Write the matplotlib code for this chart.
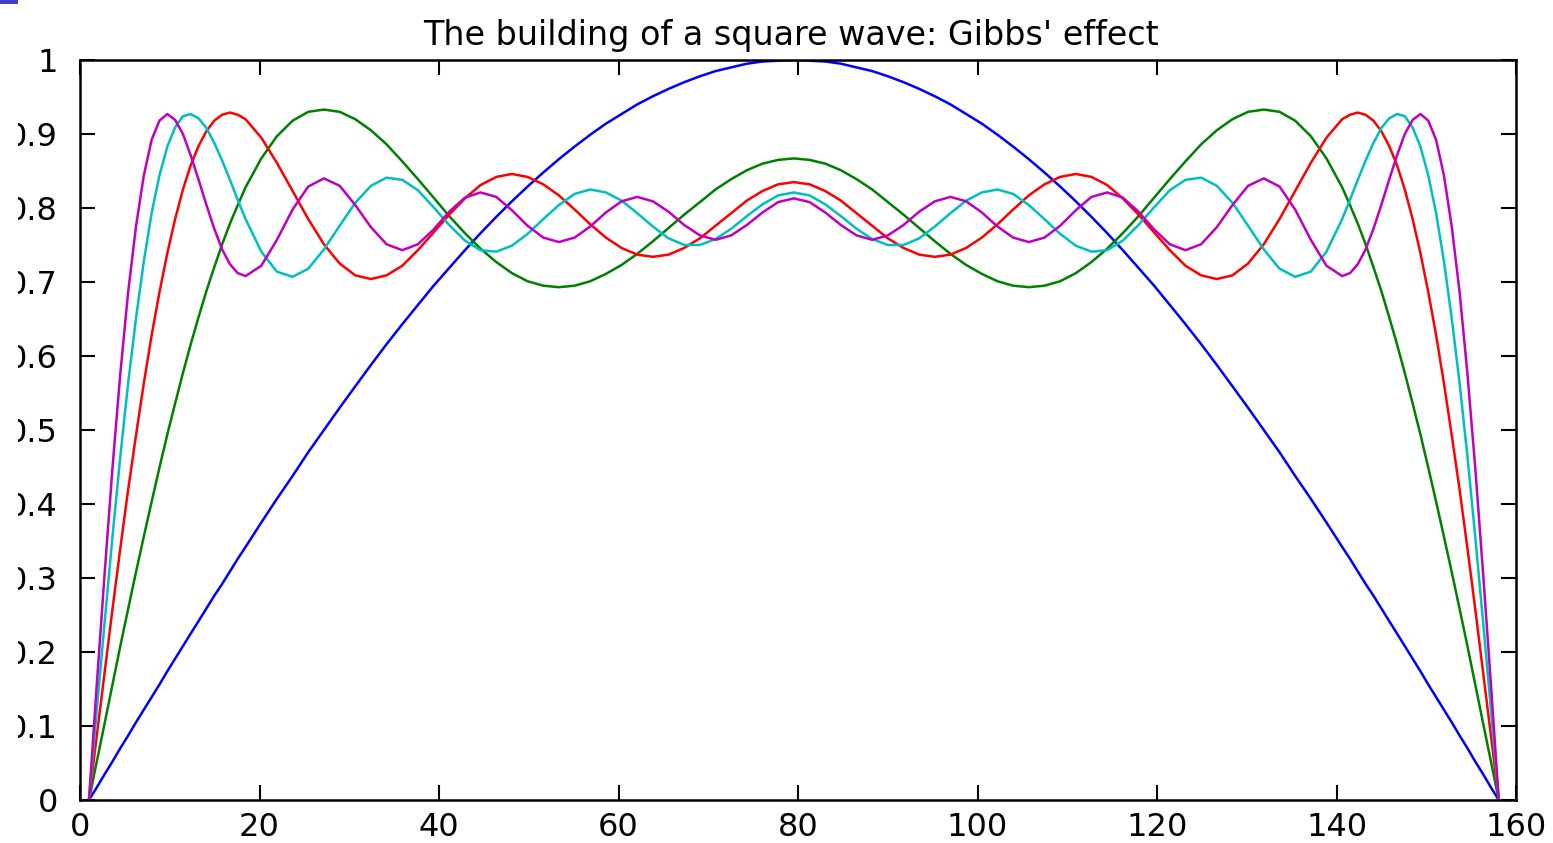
import matplotlib
matplotlib.use("Agg")
import matplotlib.pyplot as plt
from matplotlib.patches import Rectangle
from matplotlib.transforms import Bbox, TransformedBbox

# sample positions (index axis of the original plot)
x = [1.00, 1.87, 2.75, 3.62, 4.49, 5.36, 6.24, 7.11, 7.98, 8.85, 9.73, 10.60, 11.47,
     12.34, 13.22, 14.09, 14.96, 15.84, 16.71, 17.58, 18.45,
     20.20, 21.94, 23.69, 25.43, 27.18, 28.93, 30.67, 32.42, 34.16, 35.91, 37.65,
     39.40, 41.14, 42.89, 44.63, 46.38, 48.12, 49.87, 51.62, 53.36, 55.11, 56.85,
     58.60, 60.34, 62.09, 63.83, 65.58, 67.32, 69.07, 70.81, 72.56, 74.30, 76.05,
     77.79, 79.54, 81.29, 83.03, 84.78, 86.52, 88.27, 90.01, 91.76, 93.50, 95.25,
     96.99, 98.74, 100.48, 102.23, 103.97, 105.72, 107.46, 109.21, 110.96, 112.70,
     114.45, 116.19, 117.94, 119.68, 121.43, 123.17, 124.92, 126.66, 128.41, 130.15,
     131.90, 133.65, 135.39, 137.14, 138.88,
     140.63, 141.50, 142.37, 143.24, 144.12, 144.99, 145.86, 146.74, 147.61, 148.48,
     149.35, 150.23, 151.10, 151.97, 152.84, 153.72, 154.59, 155.46, 156.33, 157.21,
     158.08]

blue = [0, .017, .035, .052, .070, .087, .105, .122, .139, .156, .174, .191, .208,
        .225, .242, .259, .276, .292, .309, .326, .342,
        .375, .407, .438, .470, .500, .530, .559, .588, .616, .643, .669, .695, .719,
        .743, .766, .788, .809, .829, .848, .866, .883, .899, .914, .927, .940, .951,
        .961, .970, .978, .985, .990, .995, .998, .999, 1.000, .999, .998, .995, .990,
        .985, .978, .970, .961, .951, .940, .927, .914, .899, .883, .866, .848, .829,
        .809, .788, .766, .743, .719, .695, .669, .643, .616, .588, .559, .530, .500,
        .470, .438, .407, .375,
        .342, .326, .309, .292, .276, .259, .242, .225, .208, .191, .174, .156, .139,
        .122, .105, .087, .070, .052, .035, .017, 0]

green = [0, .052, .104, .156, .208, .258, .308, .356, .403, .449, .494, .536, .577,
         .616, .653, .688, .720, .751, .779, .804, .828,
         .867, .897, .918, .930, .933, .930, .920, .905, .886, .863, .839, .814, .789,
         .766, .745, .727, .712, .701, .695, .693, .695, .701, .711, .723, .738, .755,
         .773, .791, .808, .825, .839, .851, .860, .865, .867, .865, .860, .851, .839,
         .825, .808, .791, .773, .755, .738, .723, .711, .701, .695, .693, .695, .701,
         .712, .727, .745, .766, .789, .814, .839, .863, .886, .905, .920, .930, .933,
         .930, .918, .897, .867,
         .828, .804, .779, .751, .720, .688, .653, .616, .577, .536, .494, .449, .403,
         .356, .308, .258, .208, .156, .104, .052, 0]

red = [0, .087, .173, .258, .340, .419, .493, .563, .628, .686, .739, .785, .825,
       .858, .884, .904, .918, .926, .929, .926, .920,
       .895, .861, .823, .785, .751, .725, .709, .704, .709, .722, .743, .767, .791,
       .813, .831, .842, .846, .842, .832, .817, .798, .778, .760, .746, .737, .734,
       .737, .746, .759, .776, .793, .810, .823, .832, .835, .832, .823, .810, .793,
       .776, .759, .746, .737, .734, .737, .746, .760, .778, .798, .817, .832, .842,
       .846, .842, .831, .813, .791, .767, .743, .722, .709, .704, .709, .725, .751,
       .785, .823, .861, .895,
       .920, .926, .929, .926, .918, .904, .884, .858, .825, .785, .739, .686, .628,
       .563, .493, .419, .340, .258, .173, .087, 0]

cyan = [0, .122, .241, .356, .464, .563, .651, .728, .793, .844, .883, .909, .924,
        .927, .921, .908, .888, .864, .838, .811, .785,
        .741, .714, .707, .718, .744, .776, .807, .830, .841, .838, .824, .801, .777,
        .756, .743, .741, .749, .765, .785, .804, .819, .825, .821, .810, .793, .775,
        .759, .750, .750, .758, .772, .789, .805, .817, .821, .817, .805, .789, .772,
        .758, .750, .750, .759, .775, .793, .810, .821, .825, .819, .804, .785, .765,
        .749, .741, .743, .756, .777, .801, .824, .838, .841, .830, .807, .776, .744,
        .718, .707, .714, .741,
        .785, .811, .838, .864, .888, .908, .921, .927, .924, .909, .883, .844, .793,
        .728, .651, .563, .464, .356, .241, .122, 0]

magenta = [0, .156, .307, .449, .576, .686, .775, .844, .892, .918, .927, .919, .900,
           .871, .838, .804, .772, .744, .724, .712, .708,
           .722, .757, .798, .829, .840, .830, .804, .774, .751, .743, .751, .771, .795,
           .814, .821, .815, .797, .776, .760, .754, .760, .775, .794, .809, .815, .809,
           .795, .777, .763, .757, .763, .777, .794, .808, .813, .808, .794, .777, .763,
           .757, .763, .777, .795, .809, .815, .809, .794, .775, .760, .754, .760, .776,
           .797, .815, .821, .814, .795, .771, .751, .743, .751, .774, .804, .830, .840,
           .829, .798, .757, .722,
           .708, .712, .724, .744, .772, .804, .838, .871, .900, .919, .927, .918, .892,
           .844, .775, .686, .576, .449, .307, .156, 0]

series = [blue, green, red, cyan, magenta]
colors = ["#0000ff", "#008000", "#ff0000", "#00bfbf", "#bf00bf"]

xticks = [0, 20, 40, 60, 80, 100, 120, 140, 160]
yticks = [0, 0.1, 0.2, 0.3, 0.4, 0.5, 0.6, 0.7, 0.8, 0.9, 1.0]
ytick_labels = ["0", "0.1", "0.2", "0.3", "0.4", "0.5", "0.6", "0.7", "0.8", "0.9", "1"]
title = "The building of a square wave: Gibbs' effect"

plt.rcParams["font.family"] = ["DejaVu Sans"]

W, H = 1553, 843
fig = plt.figure(figsize=(W / 100, H / 100), dpi=100)
ax = fig.add_axes([80 / W, 1 - 800 / H, (1516 - 80) / W, (800 - 60) / H])

for ys, c in zip(series, colors):
    ax.plot(x, ys, color=c, lw=1.8)

ax.set_xlim(0, 160)
ax.set_ylim(0, 1)
ax.set_xticks(xticks)
ax.set_yticks(yticks)
ax.set_yticklabels(ytick_labels)
ax.tick_params(direction="in", length=11, width=1.5, top=True, right=True,
               labelsize=23, colors="black")
ax.tick_params(axis="y", pad=16)
ax.tick_params(axis="x", pad=9)
for s in ax.spines.values():
    s.set_linewidth(1.8)
ax.set_title(title, fontsize=24, pad=11, x=(791 - 80) / 1436)

# the screenshot is cut on the left: clip the tick labels there
clip = TransformedBbox(Bbox([[18 / W, 0], [1, 1]]), fig.transFigure)
for t in ax.yaxis.get_major_ticks():
    t.label1.set_clip_box(clip)
    t.label1.set_clip_on(True)

# small blue mark at the top-left corner of the screenshot
fig.add_artist(Rectangle((0, 1 - 4 / H), 18 / W, 4 / H, transform=fig.transFigure,
                         color="#4040d0", lw=0))

fig.savefig("out.png", dpi=100)
